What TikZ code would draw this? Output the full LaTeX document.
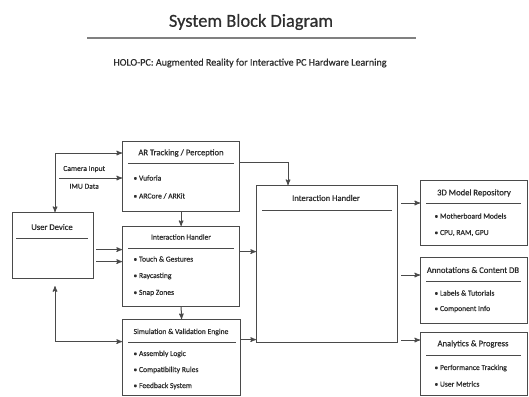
\documentclass[tikz,border=0pt]{standalone}
\usepackage{fontspec}
\setmainfont{Carlito}[FakeBold=0.6]
\usetikzlibrary{arrows}

\definecolor{linegray}{HTML}{4a4a4a}
\definecolor{textgray}{HTML}{2e2e2e}

\begin{document}
\begin{tikzpicture}[x=1pt,y=-1pt,>=stealth',line width=1pt,draw=linegray,
  text=textgray,
  block node/.style={rectangle,draw=linegray,line width=1.2pt,anchor=north west,inner sep=0pt},
  head node/.style={font=\fontsize{8.6}{10}\selectfont},
  small head/.style={font=\fontsize{7.6}{9}\selectfont},
  item node/.style={anchor=west,inner sep=0pt,font=\fontsize{7.6}{9}\selectfont},
  label node/.style={font=\fontsize{7.6}{9}\selectfont,text=textgray},
  head rule/.style={draw=linegray,line width=1pt}]

  \useasboundingbox[fill=white] (0,0) rectangle (529,396);

  % title
  \node (title) at (251,22) {\fontsize{18.4}{22}\selectfont System Block Diagram};
  \draw[draw=gray,line width=1.5pt] (87,38) -- (416,38);
  \node (subtitle) at (250,63) {\fontsize{10.1}{12}\selectfont HOLO-PC: Augmented Reality for Interactive PC Hardware Learning};

  % blocks
  \node[block node,minimum width=117pt,minimum height=70pt] (ar) at (122,141) {};
  \node[block node,minimum width=81pt,minimum height=66pt] (ud) at (12,212) {};
  \node[block node,minimum width=117pt,minimum height=80pt] (ihs) at (122,226) {};
  \node[block node,minimum width=118pt,minimum height=76pt] (sim) at (122,319) {};
  \node[block node,minimum width=141pt,minimum height=157pt] (ihb) at (256,185) {};
  \node[block node,minimum width=107pt,minimum height=65pt] (repo) at (420,180) {};
  \node[block node,minimum width=107pt,minimum height=66pt] (ann) at (420,257) {};
  \node[block node,minimum width=107pt,minimum height=63pt] (ana) at (420,332) {};

  % AR tracking
  \node[head node] (ar title) at (181,153) {AR Tracking / Perception};
  \draw[head rule] (128,163) -- (234,163);
  \node[item node] (ar1) at (133,178) {\textbullet\ Vuforia};
  \node[item node] (ar2) at (133,196) {\textbullet\ ARCore / ARKit};

  % user device
  \node[head node] (ud title) at (52,227) {User Device};
  \draw[head rule] (16,238) -- (88,238);

  % interaction handler (small)
  \node[small head] (ihs title) at (181,237) {Interaction Handler};
  \draw[head rule] (128,248) -- (234,248);
  \node[item node] (ihs1) at (133,259) {\textbullet\ Touch \& Gestures};
  \node[item node] (ihs2) at (133,276) {\textbullet\ Raycasting};
  \node[item node] (ihs3) at (133,293) {\textbullet\ Snap Zones};

  % simulation
  \node[small head] (sim title) at (181,332) {Simulation \& Validation Engine};
  \draw[head rule] (128,342) -- (236,342);
  \node[item node] (sim1) at (133,354) {\textbullet\ Assembly Logic};
  \node[item node] (sim2) at (133,370) {\textbullet\ Compatibility Rules};
  \node[item node] (sim3) at (133,386) {\textbullet\ Feedback System};

  % interaction handler (big)
  \node[head node] (ihb title) at (326,198) {Interaction Handler};
  \draw[head rule] (262,210) -- (392,210);

  % 3D model repository
  \node[head node] (repo title) at (474,193) {3D Model Repository};
  \draw[head rule] (426,203) -- (521,203);
  \node[item node] (repo1) at (434,216) {\textbullet\ Motherboard Models};
  \node[item node] (repo2) at (434,233) {\textbullet\ CPU, RAM, GPU};

  % annotations
  \node[head node] (ann title) at (473,270) {Annotations \& Content DB};
  \draw[head rule] (426,281) -- (521,281);
  \node[item node] (ann1) at (434,293) {\textbullet\ Labels \& Tutorials};
  \node[item node] (ann2) at (434,309) {\textbullet\ Component Info};

  % analytics
  \node[head node] (ana title) at (473,344) {Analytics \& Progress};
  \draw[head rule] (426,355) -- (521,355);
  \node[item node] (ana1) at (434,368) {\textbullet\ Performance Tracking};
  \node[item node] (ana2) at (434,384) {\textbullet\ User Metrics};

  % connectors
  \coordinate (cam) at (59,178);
  \draw[<->] ([xshift=43pt]ud.north west) |- ([yshift=-12pt]ar.north west);
  \draw[->] (cam) -- (cam -| ar.west)
    node[label node,pos=0.4,above=2pt] {Camera Input}
    node[label node,pos=0.4,below=2pt] {IMU Data};
  \draw[->,shorten <=2pt] ([yshift=-4pt]ud.east) -- ([yshift=-4pt]ud.east -| ihs.west);
  \draw[->,shorten <=2pt] ([yshift=-16pt]ud.east) -- ([yshift=-16pt]ud.east -| ihs.west);
  \draw[<->,shorten <=7pt] ([xshift=43pt]ud.south west) |- ([yshift=16pt]sim.west);
  \draw[->] (ar.south) -- (ihs.north);
  \draw[->] (ihs.south) -- (sim.north);
  \draw[->] ([yshift=-21pt]ar.north east) -| ([xshift=32pt]ihb.north west);
  \draw[->] ([yshift=15pt]ihs.east) -- ([yshift=15pt]ihs.east -| ihb.west);
  \draw[->] ([yshift=18pt]sim.east) -- ([yshift=18pt]sim.east -| ihb.west);
  \draw[->,shorten <=3pt] ([yshift=-23pt]repo.north west -| ihb.east) -- ([yshift=-23pt]repo.north west);
  \draw[->,shorten <=3pt] ([yshift=-18pt]ann.north west -| ihb.east) -- ([yshift=-18pt]ann.north west);
  \draw[->,shorten <=3pt] ([yshift=-8pt]ana.north west -| ihb.east) -- ([yshift=-8pt]ana.north west);

\end{tikzpicture}
\end{document}
